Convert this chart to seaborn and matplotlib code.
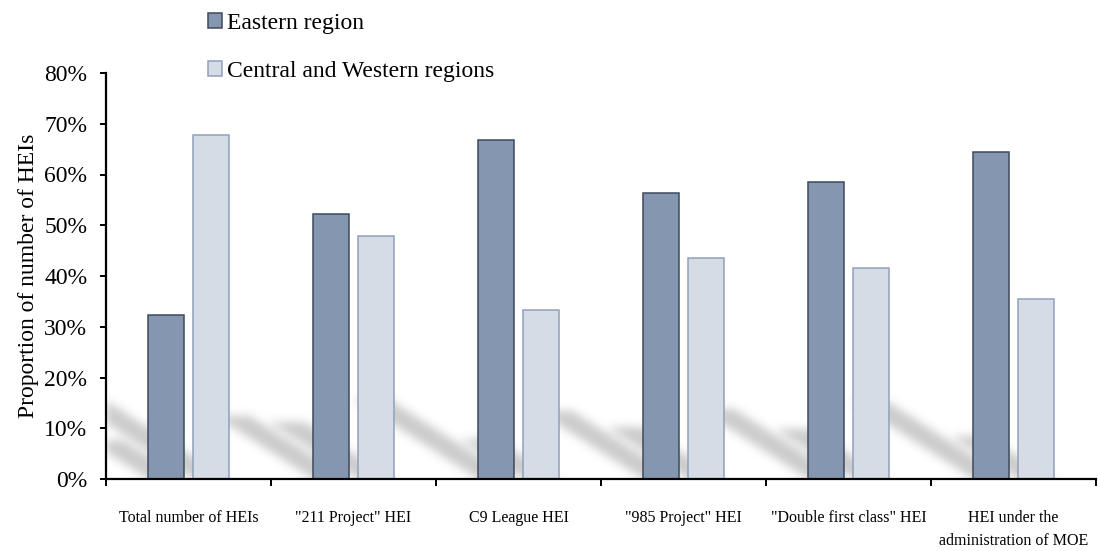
import numpy as np
import pandas as pd
import seaborn as sns
import matplotlib
matplotlib.use("Agg")
import matplotlib.pyplot as plt
from matplotlib.patches import Patch
from matplotlib.ticker import FuncFormatter, FixedLocator

# Share of higher-education institutions by region, per institution type
categories = [
    "Total number of HEIs",
    '"211 Project" HEI',
    "C9 League HEI",
    '"985 Project" HEI',
    '"Double first class" HEI',
    "HEI under the\nadministration of MOE",
]
series = ["Eastern region", "Central and Western regions"]
eastern = [32.3, 52.2, 66.7, 56.4, 58.5, 64.5]
central_western = [67.7, 47.8, 33.3, 43.6, 41.5, 35.5]
y_ticks = [0, 10, 20, 30, 40, 50, 60, 70, 80]

fill_colors = ["#8496B0", "#D6DCE5"]
edge_colors = ["#3E4A5C", "#8FA1BC"]

df = pd.DataFrame({
    "category": categories * 2,
    "share": eastern + central_western,
    "region": [series[0]] * len(categories) + [series[1]] * len(categories),
})

sns.set_style("white")
plt.rcParams["font.family"] = ["Liberation Serif", "DejaVu Serif"]
for key in ["text.color", "axes.labelcolor", "xtick.color", "ytick.color"]:
    plt.rcParams[key] = "black"

fig = plt.figure(figsize=(10.98, 5.51), dpi=100)
ax = fig.add_axes([106 / 1098, 1 - 479 / 551, 990 / 1098, 406 / 551])

sns.barplot(
    data=df, x="category", y="share", hue="region",
    order=categories, hue_order=series, palette=fill_colors,
    width=0.545, gap=0.22, saturation=1, legend=False, ax=ax, zorder=2,
)
for container, ec in zip(ax.containers, edge_colors):
    for bar in container:
        bar.set_edgecolor(ec)
        bar.set_linewidth(1.1)

ax.set_xlim(-0.5, len(categories) - 0.5)
ax.set_ylim(y_ticks[0], y_ticks[-1])

# Soft slanted drop shadows cast by each bar toward the upper left
bb = ax.get_window_extent()
W, H = int(round(bb.width)), int(round(bb.height))
X, Y = np.meshgrid(bb.x0 + np.arange(W) + 0.5, bb.y0 + np.arange(H) + 0.5)
mask = np.zeros((H, W))
slope, reach = 0.64, 0.37
for container in ax.containers:
    for bar in container:
        (px0, py0) = ax.transData.transform((bar.get_x(), 0))
        (px1, py1) = ax.transData.transform((bar.get_x() + bar.get_width(), bar.get_height()))
        L = reach * (py1 - py0)
        T = (Y - py0) / slope
        inside = (T >= 0) & (T <= L) & (X + T >= px0) & (X + T <= px1)
        mask[inside] = 1.0

sigma = 4.5
r = int(3 * sigma)
kern = np.exp(-np.arange(-r, r + 1) ** 2 / (2 * sigma ** 2))
kern /= kern.sum()
blur = np.apply_along_axis(lambda m: np.convolve(m, kern, mode="same"), 1, mask)
blur = np.apply_along_axis(lambda m: np.convolve(m, kern, mode="same"), 0, blur)
rgba = np.zeros((H, W, 4))
rgba[..., :3] = 0.5
rgba[..., 3] = 0.4 * np.clip(blur, 0, 1)
ax.imshow(rgba, extent=(-0.5, len(categories) - 0.5, y_ticks[0], y_ticks[-1]),
          origin="lower", aspect="auto", zorder=1, interpolation="bilinear")
ax.set_xlim(-0.5, len(categories) - 0.5)
ax.set_ylim(y_ticks[0], y_ticks[-1])

# Axes, ticks and labels
for side in ["top", "right"]:
    ax.spines[side].set_visible(False)
for side in ["left", "bottom"]:
    ax.spines[side].set_color("black")
    ax.spines[side].set_linewidth(1.6)

ax.set_yticks(y_ticks)
ax.yaxis.set_major_formatter(FuncFormatter(lambda v, _: f"{v:.0f}%"))
ax.tick_params(axis="y", which="major", direction="out", length=4.5, width=1.4,
               labelsize=17, pad=9, left=True, colors="black")

ax.set_xticks(range(len(categories)))
ax.set_xticklabels(categories, fontsize=11.5, linespacing=1.65, va="top")
ax.tick_params(axis="x", which="major", length=0, pad=22, labelcolor="black")
ax.xaxis.set_minor_locator(FixedLocator(np.arange(-0.5, len(categories), 1.0)))
ax.tick_params(axis="x", which="minor", direction="out", length=5, width=1.4,
               bottom=True, color="black")

ax.set_xlabel("")
ax.set_ylabel("Proportion of number of HEIs", fontsize=17, labelpad=4, color="black")

handles = [Patch(facecolor=fc, edgecolor=ec, linewidth=1.1)
           for fc, ec in zip(fill_colors, edge_colors)]
fig.legend(handles, series, loc="upper left", bbox_to_anchor=(208 / 1098, 1 - 13 / 551),
           frameon=False, fontsize=17, handlelength=0.6, handleheight=0.6,
           handletextpad=0.2, labelspacing=1.15, borderpad=0, borderaxespad=0,
           labelcolor="black")

fig.savefig("out.png", dpi=100)
